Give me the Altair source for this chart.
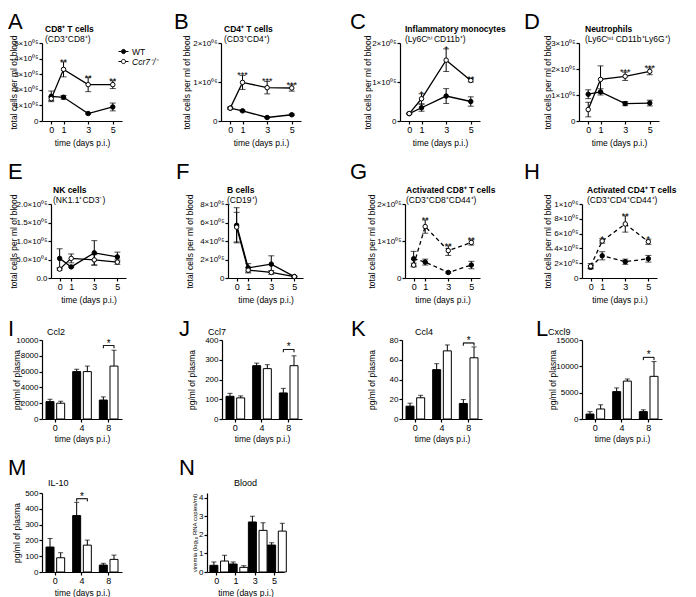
import altair as alt
import pandas as pd

FONT = "Liberation Sans"
WT = "WT"
KO = "Ccr7⁻/⁻"
SERIES = [WT, KO]
DAYS = [0, 1, 3, 5]
CYTO_DAYS = ["0", "4", "8"]
VIRO_DAYS = ["0", "1", "3", "5"]

# ---------------- line panels (cells per ml of blood) ----------------
A_WT = [158000, 152000, 48000, 90000]
A_WT_ERR = [34000, 12000, 4000, 25000]
A_KO = [143000, 331000, 233000, 233000]
A_KO_ERR = [12000, 48000, 45000, 25000]
A_STARS = ["", "**", "**", "**"]
A_TICKS = [0, 100000, 200000, 300000, 400000, 500000]
A_LABELS = ["0", "1×10⁰⁵", "2×10⁰⁵", "3×10⁰⁵", "4×10⁰⁵", "5×10⁰⁵"]

B_WT = [330000, 260000, 90000, 160000]
B_WT_ERR = [20000, 20000, 10000, 20000]
B_KO = [330000, 990000, 855000, 846000]
B_KO_ERR = [30000, 180000, 160000, 80000]
B_STARS = ["", "***", "***", "***"]
B_TICKS = [0, 1000000, 2000000]
B_LABELS = ["0", "1×10⁰⁶", "2×10⁰⁶"]

C_WT = [19000, 34000, 64000, 50000]
C_WT_ERR = [1000, 9000, 19000, 12000]
C_KO = [19000, 57000, 156000, 104000]
C_KO_ERR = [1000, 13000, 29000, 4000]
C_STARS = ["", "*", "*", "**"]
C_TICKS = [0, 100000, 200000]
C_LABELS = ["0", "1×10⁰⁵", "2×10⁰⁵"]

D_WT = [103000, 112000, 67000, 69000]
D_WT_ERR = [17000, 12000, 8000, 11000]
D_KO = [44000, 160000, 172000, 191000]
D_KO_ERR = [28000, 52000, 16000, 13000]
D_STARS = ["", "", "***", "***"]
D_TICKS = [0, 100000, 200000, 300000]
D_LABELS = ["0", "1×10⁰⁵", "2×10⁰⁵", "3×10⁰⁵"]

E_WT = [53000, 30000, 68000, 57000]
E_WT_ERR = [26000, 2000, 33000, 13000]
E_KO = [24000, 53000, 49000, 43000]
E_KO_ERR = [3000, 12000, 14000, 6000]
E_STARS = ["", "", "", ""]
E_TICKS = [0, 50000, 100000, 150000, 200000]
E_LABELS = ["0.0", "5.0×10⁰⁴", "1.0×10⁰⁵", "1.5×10⁰⁵", "2.0×10⁰⁵"]

F_WT = [570000, 110000, 150000, 15000]
F_WT_ERR = [190000, 45000, 90000, 5000]
F_KO = [550000, 85000, 60000, 15000]
F_KO_ERR = [160000, 30000, 20000, 5000]
F_STARS = ["", "", "", ""]
F_TICKS = [0, 200000, 400000, 600000, 800000]
F_LABELS = ["0", "2×10⁰⁵", "4×10⁰⁵", "6×10⁰⁵", "8×10⁰⁵"]

G_WT = [52000, 43000, 15000, 35000]
G_WT_ERR = [20000, 8000, 2000, 10000]
G_KO = [35000, 139000, 74000, 96000]
G_KO_ERR = [5000, 18000, 13000, 7000]
G_STARS = ["", "**", "**", "**"]
G_TICKS = [0, 100000, 200000]
G_LABELS = ["0", "1×10⁰⁵", "2×10⁰⁵"]

H_WT = [145000, 300000, 220000, 260000]
H_WT_ERR = [20000, 55000, 35000, 45000]
H_KO = [160000, 500000, 730000, 490000]
H_KO_ERR = [35000, 30000, 110000, 35000]
H_STARS = ["", "*", "**", "*"]
H_TICKS = [0, 200000, 400000, 600000, 800000, 1000000]
H_LABELS = ["0", "2×10⁰⁵", "4×10⁰⁵", "6×10⁰⁵", "8×10⁰⁵", "1×10⁰⁶"]

# ---------------- bar panels (pg/ml of plasma, viremia) ----------------
I_WT = [2200, 6000, 2400]
I_WT_ERR = [300, 300, 400]
I_KO = [2000, 6000, 6700]
I_KO_ERR = [250, 700, 2000]
I_TICKS = [0, 2000, 4000, 6000, 8000, 10000]

J_WT = [115, 270, 132]
J_WT_ERR = [15, 13, 23]
J_KO = [107, 255, 270]
J_KO_ERR = [10, 20, 50]
J_TICKS = [0, 100, 200, 300, 400]

K_WT = [13, 50, 15.7]
K_WT_ERR = [3, 6, 4]
K_KO = [21.5, 69, 62]
K_KO_ERR = [2.5, 6, 11]
K_TICKS = [0, 20, 40, 60, 80]

L_WT = [940, 5200, 1400]
L_WT_ERR = [450, 700, 350]
L_KO = [1900, 7200, 8100]
L_KO_ERR = [800, 400, 2800]
L_TICKS = [0, 5000, 10000, 15000]

M_WT = [158, 357, 44]
M_WT_ERR = [54, 84, 11]
M_KO = [90, 170, 80]
M_KO_ERR = [32, 32, 27]
M_TICKS = [0, 100, 200, 300, 400, 500]

N_WT = [0.36, 0.43, 2.69, 1.45]
N_WT_ERR = [0.18, 0.11, 0.31, 0.13]
N_KO = [0.59, 0.25, 2.24, 2.20]
N_KO_ERR = [0.31, 0.09, 0.41, 0.42]
N_TICKS = [0, 1, 2, 3, 4]

PATH_LEG = ("M-1,0L-0.42,0M0.42,0L1,0M-0.42,0A0.42,0.42,0,1,1,0.42,0"
            "A0.42,0.42,0,1,1,-0.42,0Z")
ITALIC_EXPR = "datum.value == 'WT' ? 'normal' : 'italic'"
AX_T = 8.5
LEG_T = 8.5


def ylabel_expr(ticks, labels):
    parts = [f"datum.value == {t} ? '{l}'" for t, l in zip(ticks, labels)]
    return " : ".join(parts) + " : ''"


def text_layer(txt, x, y, size, weight="normal"):
    return alt.Chart(pd.DataFrame({"t": [txt]})).mark_text(
        font=FONT, fontSize=size, fontWeight=weight, align="left",
        baseline="top", color="black"
    ).encode(x=alt.value(x), y=alt.value(y), text="t:N")


def line_panel(letter, title, subtitle, wt, wt_err, ko, ko_err, stars, ticks,
               labels, w, h, dashed, lay):
    xoff = lay.get("xoff", 0)
    rows = []
    for s, m, e in ((WT, wt, wt_err), (KO, ko, ko_err)):
        for i, d in enumerate(DAYS):
            rows.append({"day": d, "series": s, "mean": m[i], "lo": m[i] - e[i],
                         "hi": m[i] + e[i], "star": stars[i] if s == KO else ""})
    df = pd.DataFrame(rows)
    skw = {"range": [xoff, w + xoff]} if xoff else {}
    xs = alt.Scale(domain=[-0.75, 5.75], nice=False, zero=False, **skw)
    ys = alt.Scale(domain=[0, ticks[-1]], nice=False)
    xax = alt.Axis(values=DAYS, format="d", title="time (days p.i.)",
                   titlePadding=4, labelFontSize=9)
    akw = {"offset": -xoff} if xoff else {}
    yax = alt.Axis(values=ticks, labelExpr=ylabel_expr(ticks, labels),
                   labelFontSize=8, title="total cells per ml of blood",
                   titleX=lay["ytx"], titleY=h / 2, titleBaseline="middle",
                   titleAngle=270, titleAlign="center", **akw)

    def X():
        return alt.X("day:Q", scale=xs, axis=xax)

    def Y(f):
        return alt.Y(f"{f}:Q", scale=ys, axis=yax)

    base = alt.Chart(df)
    lkw = {"strokeDash": [4, 3]} if dashed else {}
    line = base.mark_line(color="black", strokeWidth=1.3, **lkw).encode(
        X(), Y("mean"), detail="series:N")
    err = base.mark_rule(color="black", strokeWidth=1).encode(
        X(), Y("lo"), y2="hi:Q")
    cap_hi = base.mark_tick(orient="horizontal", size=6, thickness=1,
                            color="black").encode(X(), Y("hi"))
    cap_lo = base.mark_tick(orient="horizontal", size=6, thickness=1,
                            color="black").encode(X(), Y("lo"))
    pts = base.mark_point(shape="circle", size=20, filled=True, stroke="black",
                          strokeWidth=1, opacity=1).encode(
        X(), Y("mean"),
        fill=alt.condition(alt.datum.series == WT, alt.value("black"),
                           alt.value("white")))
    st = base.transform_filter(alt.datum.star != "").mark_text(
        font=FONT, fontSize=9, baseline="alphabetic", dy=3, color="black"
    ).encode(X(), Y("hi"), text="star:N")
    leg = alt.Legend(title=None, orient="none", legendX=lay["lx"] + xoff,
                     legendY=lay["ly"], labelFontSize=LEG_T, labelFont=FONT,
                     symbolSize=100, symbolStrokeWidth=1, rowPadding=0,
                     labelOffset=3, padding=0, symbolOpacity=1,
                     labelFontStyle=alt.ExprRef(ITALIC_EXPR))
    lg = base.transform_filter("false").mark_point(
        filled=True, opacity=1, strokeWidth=1).encode(
        shape=alt.Shape("series:N", scale=alt.Scale(domain=SERIES,
                        range=[PATH_LEG, PATH_LEG]), legend=leg),
        fill=alt.Fill("series:N", scale=alt.Scale(domain=SERIES,
                      range=["black", "white"]), legend=leg),
        stroke=alt.Stroke("series:N", scale=alt.Scale(domain=SERIES,
                          range=["black", "black"]), legend=leg))
    layers = [line, err, cap_hi, cap_lo, pts, st, lg,
              text_layer(title, lay["tdx"] + xoff, -17.7, 8.5, "bold"),
              text_layer(subtitle, lay["tdx"] + xoff, -8.5, 8.5),
              text_layer(letter, lay["ldx"], lay["ldy"], 22)]
    return alt.layer(*layers).properties(width=w + xoff, height=h)


def bar_panel(letter, title, cats, wt, wt_err, ko, ko_err, sig_cat, sig_y,
              ticks, w, h, fills, lay, ytitle="pg/ml of plasma", ytsize=AX_T,
              bracket=11):
    rows = []
    for s, m, e in ((WT, wt, wt_err), (KO, ko, ko_err)):
        for i, d in enumerate(cats):
            rows.append({"day": d, "series": s, "mean": m[i], "hi": m[i] + e[i]})
    df = pd.DataFrame(rows)
    xs = alt.Scale(domain=cats, paddingInner=0.3, paddingOuter=0.15)
    os_ = alt.Scale(domain=SERIES, paddingInner=0.25, paddingOuter=0)
    ys = alt.Scale(domain=[0, lay.get("ymax", ticks[-1])], nice=False)
    xax = alt.Axis(labelAngle=0, title="time (days p.i.)",
                   titlePadding=lay.get("xtp", 3), labelFontSize=9)
    yax = alt.Axis(values=ticks, format="d", labelFontSize=8, title=ytitle,
                   titleFontSize=ytsize, titleX=lay["ytx"], titleY=h / 2,
                   titleBaseline="middle", titleAngle=270, titleAlign="center")

    def X():
        return alt.X("day:N", scale=xs, axis=xax, sort=cats)

    def XO():
        return alt.XOffset("series:N", scale=os_, sort=SERIES)

    def Y(f):
        return alt.Y(f"{f}:Q", scale=ys, axis=yax)

    leg = alt.Legend(title=None, orient="none", legendX=lay["lx"],
                     legendY=lay["ly"], labelFontSize=LEG_T, labelFont=FONT,
                     symbolType="square", symbolSize=81,
                     symbolStrokeColor="black", symbolStrokeWidth=1,
                     rowPadding=1, labelOffset=4, padding=0, symbolOpacity=1,
                     labelFontStyle=alt.ExprRef(ITALIC_EXPR))
    base = alt.Chart(df)
    bars = base.mark_bar(stroke="black", strokeWidth=1, opacity=1).encode(
        X(), XO(), Y("mean"),
        fill=alt.Fill("series:N", scale=alt.Scale(domain=SERIES, range=fills),
                      legend=leg))
    err = base.mark_rule(color="black", strokeWidth=1).encode(
        X(), XO(), Y("mean"), y2="hi:Q")
    cap = base.mark_tick(orient="horizontal", size=5, thickness=1,
                         color="black").encode(X(), XO(), Y("hi"))
    layers = [bars, err, cap]
    if sig_cat is not None:
        drop = 0.035 * ticks[-1]
        sig = pd.DataFrame([{"day": sig_cat, "series": s, "y": sig_y,
                             "y2": sig_y - drop, "star": "*"} for s in SERIES])
        sbase = alt.Chart(sig)
        br = sbase.mark_tick(orient="horizontal", size=bracket, thickness=1,
                             color="black").encode(X(), Y("y"))
        ends = sbase.mark_rule(color="black", strokeWidth=1).encode(
            X(), XO(), Y("y"), y2="y2:Q")
        st = sbase.transform_filter(alt.datum.series == WT).mark_text(
            font=FONT, fontSize=10, baseline="alphabetic", dy=1, color="black"
        ).encode(X(), Y("y"), text="star:N")
        layers += [br, ends, st]
    layers.append(text_layer(title, lay["tdx"], lay["ty"], 9))
    layers.append(text_layer(letter, lay["ldx"], lay["ldy"], 22))
    return alt.layer(*layers).properties(width=w, height=h)


# ---------------- rows ----------------
W1, H1 = 80, 78
r1 = alt.hconcat(
    line_panel("A", "CD8⁺ T cells", "(CD3⁺CD8⁺)", A_WT, A_WT_ERR, A_KO, A_KO_ERR,
               A_STARS, A_TICKS, A_LABELS, W1, H1, False,
               dict(ldx=-34, ldy=-31, tdx=3, ytx=-29, lx=76, ly=3)),
    line_panel("B", "CD4⁺ T cells", "(CD3⁺CD4⁺)", B_WT, B_WT_ERR, B_KO, B_KO_ERR,
               B_STARS, B_TICKS, B_LABELS, W1, H1, False,
               dict(ldx=-47, ldy=-31, tdx=3, ytx=-35, lx=75, ly=0)),
    line_panel("C", "Inflammatory monocytes", "(Ly6Cʰⁱ CD11b⁺)", C_WT, C_WT_ERR,
               C_KO, C_KO_ERR, C_STARS, C_TICKS, C_LABELS, W1, H1, False,
               dict(ldx=-50, ldy=-31, tdx=5, ytx=-33, lx=76, ly=-1)),
    line_panel("D", "Neutrophils", "(Ly6Cⁱⁿᵗ CD11b⁺Ly6G⁺)", D_WT, D_WT_ERR, D_KO,
               D_KO_ERR, D_STARS, D_TICKS, D_LABELS, W1, H1, False,
               dict(ldx=-55, ldy=-31, tdx=6, ytx=-32, lx=75, ly=-1)),
    spacing=99, bounds="flush")

W2, H2 = 75, 74
r2 = alt.hconcat(
    line_panel("E", "NK cells", "(NK1.1⁺CD3⁻)", E_WT, E_WT_ERR, E_KO, E_KO_ERR,
               E_STARS, E_TICKS, E_LABELS, W2, H2, False,
               dict(ldx=-34, ldy=-41.6, tdx=2, ytx=-38, lx=72, ly=0, xoff=9)),
    line_panel("F", "B cells", "(CD19⁺)", F_WT, F_WT_ERR, F_KO, F_KO_ERR,
               F_STARS, F_TICKS, F_LABELS, W2, H2, False,
               dict(ldx=-52, ldy=-41.6, tdx=-1, ytx=-39, lx=72, ly=-4)),
    line_panel("G", "Activated CD8⁺ T cells", "(CD3⁺CD8⁺CD44⁺)", G_WT, G_WT_ERR,
               G_KO, G_KO_ERR, G_STARS, G_TICKS, G_LABELS, W2, H2, True,
               dict(ldx=-55, ldy=-41.6, tdx=1, ytx=-34, lx=71, ly=-3)),
    line_panel("H", "Activated CD4⁺ T cells", "(CD3⁺CD4⁺CD44⁺)", H_WT, H_WT_ERR,
               H_KO, H_KO_ERR, H_STARS, H_TICKS, H_LABELS, W2, H2, True,
               dict(ldx=-58, ldy=-41.6, tdx=5, ytx=-35, lx=76, ly=-3)),
    spacing=102, bounds="flush")

W3, H3 = 80, 79
BW = ["black", "white"]
r3 = alt.hconcat(
    bar_panel("I", "Ccl2", CYTO_DAYS, I_WT, I_WT_ERR, I_KO, I_KO_ERR, "8", 9300,
              I_TICKS, W3, H3, BW,
              dict(ldx=-34, ldy=-20.6, ty=-12, tdx=5, ytx=-26, lx=83, ly=3,
                   xtp=2)),
    bar_panel("J", "Ccl7", CYTO_DAYS, J_WT, J_WT_ERR, J_KO, J_KO_ERR, "8", 352,
              J_TICKS, W3, H3, BW,
              dict(ldx=-43, ldy=-20.6, ty=-12, tdx=-14, ytx=-31, lx=82, ly=3,
                   xtp=2)),
    bar_panel("K", "Ccl4", CYTO_DAYS, K_WT, K_WT_ERR, K_KO, K_KO_ERR, "8", 77,
              K_TICKS, W3, H3, BW,
              dict(ldx=-51, ldy=-20.6, ty=-12, tdx=13, ytx=-31, lx=82, ly=3,
                   xtp=2)),
    bar_panel("L", "Cxcl9", CYTO_DAYS, L_WT, L_WT_ERR, L_KO, L_KO_ERR, "8", 11700,
              L_TICKS, W3, H3, BW,
              dict(ldx=-46, ldy=-20.6, ty=-12, tdx=-34, ytx=-30, lx=81, ly=3,
                   xtp=2)),
    spacing=100, bounds="flush")

r4 = alt.hconcat(
    bar_panel("M", "IL-10", CYTO_DAYS, M_WT, M_WT_ERR, M_KO, M_KO_ERR, "4", 464,
              M_TICKS, 80, 79, BW,
              dict(ldx=-34, ldy=-34.6, ty=-14, tdx=6, ytx=-26, lx=79, ly=3)),
    bar_panel("N", "Blood", VIRO_DAYS, N_WT, N_WT_ERR, N_KO, N_KO_ERR, None, None,
              N_TICKS, 77, 79, ["#3a3a3a", "#dcdcdc"],
              dict(ldx=-28, ldy=-34.6, ty=-14, tdx=27, ytx=-13, lx=87, ly=7,
                   ymax=4.25),
              ytitle="viremia (log₁₀ RNA copies/ml)", ytsize=6),
    spacing=85, bounds="flush")

chart = alt.concat(r1, r2, r3, r4, columns=1, spacing=14, bounds="full",
                   align="none").properties(
    padding={"left": 0, "top": 3, "right": 0, "bottom": 0}
).configure(font=FONT).configure_view(stroke=None).configure_axis(
    domainColor="black", domainWidth=1.2, tickColor="black", tickWidth=1.2,
    tickSize=3, labelColor="black", titleColor="black", labelFont=FONT,
    titleFont=FONT, titleFontSize=AX_T, titleFontWeight="normal", grid=False,
    labelPadding=1
).configure_legend(labelColor="black")

chart.save("out.html", embed_options={"renderer": "svg", "actions": False})
